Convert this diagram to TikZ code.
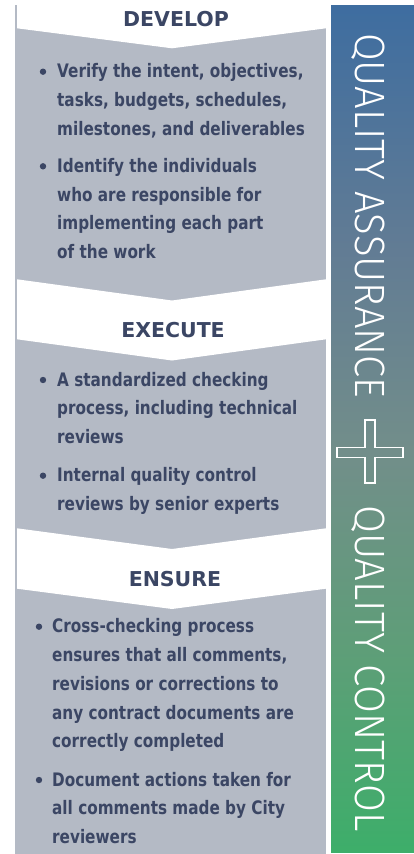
\documentclass[tikz,border=0pt]{standalone}
\usepackage{fontspec}
\usepackage{graphicx}
\newfontfamily\bodyfont{DejaVu Sans}[FakeStretch=0.82]
\newfontfamily\headfont{DejaVu Sans}
\IfFontExistsTF{Fira Sans Light}{\newfontfamily\thinfont{Fira Sans Light}}{%
  \IfFontExistsTF{Open Sans Light}{\newfontfamily\thinfont{Open Sans Light}}{\newfontfamily\thinfont{DejaVu Sans}}}
\definecolor{colgray}{HTML}{B4BAC5}
\definecolor{coltext}{HTML}{3B4664}
\definecolor{qgreen}{HTML}{3DAE6A}
\definecolor{qgreenmid}{HTML}{5E9E78}
\definecolor{qmid}{HTML}{728E8A}
\definecolor{qbluemid}{HTML}{627C94}
\definecolor{qblue}{HTML}{3E6DA0}
\pgfdeclareverticalshading{qashade}{100bp}{color(0bp)=(qgreen); color(25bp)=(qgreen); color(36.9bp)=(qgreenmid); color(48.7bp)=(qmid); color(60.5bp)=(qbluemid); color(75bp)=(qblue); color(100bp)=(qblue)}
\tikzset{
  bodytxt/.style={anchor=base west, inner sep=0pt, text=coltext, font=\bodyfont\bfseries\fontsize{18.6}{20}\selectfont},
  headtxt/.style={anchor=base, inner sep=0pt, text=coltext, font=\headfont\bfseries\fontsize{20.5}{22}\selectfont},
  bulletdot/.style={fill=coltext},
  chevron/.style={fill=white, draw=none},
  sidetxt/.style={anchor=base west, inner sep=0pt, text=white, rotate=-90}
}
\begin{document}
\begin{tikzpicture}[x=1pt, y=-1pt]
\useasboundingbox (0,0) rectangle (414,854);
\fill[white] (0,0) rectangle (414,854);
% gray column
\fill[colgray] (15,5) rectangle (325.5,854);
% white chevrons
\fill[chevron] (17,0) -- (326,0) -- (326,28.3) -- (172,48.3) -- (17,28.3) -- cycle;
\fill[chevron] (17,279.3) -- (172,300.5) -- (326,279.3) -- (326,339.3) -- (172,360.5) -- (17,339.3) -- cycle;
\fill[chevron] (17,528.3) -- (172,549) -- (326,528.3) -- (326,588.7) -- (172,609) -- (17,588.7) -- cycle;
% right panel
\shade[shading=qashade] (331,5) rectangle (414,852);
% headers
\node[headtxt] (hdev) at (176,26.7) {DEVELOP};
\node[headtxt] (hexe) at (173,337) {EXECUTE};
\node[headtxt] (hens) at (175,586) {ENSURE};
% DEVELOP bullets
\fill[bulletdot] (43,71.7) circle[radius=3.2pt];
\node[bodytxt] (d1) at (57,77.7) {Verify the intent, objectives,};
\node[bodytxt] (d2) at (57,106.4) {tasks, budgets, schedules,};
\node[bodytxt] (d3) at (57,135) {milestones, and deliverables};
\fill[bulletdot] (43,166.3) circle[radius=3.2pt];
\node[bodytxt] (d4) at (57,172.3) {Identify the individuals};
\node[bodytxt] (d5) at (57,201) {who are responsible for};
\node[bodytxt] (d6) at (57,229.7) {implementing each part};
\node[bodytxt] (d7) at (57,258.3) {of the work};
% EXECUTE bullets
\fill[bulletdot] (43,380) circle[radius=3.2pt];
\node[bodytxt] (e1) at (57,386) {A standardized checking};
\node[bodytxt] (e2) at (57,414.7) {process, including technical};
\node[bodytxt] (e3) at (57,443.3) {reviews};
\fill[bulletdot] (43,475.7) circle[radius=3.2pt];
\node[bodytxt] (e4) at (57,481.7) {Internal quality control};
\node[bodytxt] (e5) at (57,510.5) {reviews by senior experts};
% ENSURE bullets
\fill[bulletdot] (39,626.7) circle[radius=3.2pt];
\node[bodytxt] (s1) at (52,632.7) {Cross-checking process};
\node[bodytxt] (s2) at (52,661.5) {ensures that all comments,};
\node[bodytxt] (s3) at (52,690) {revisions or corrections to};
\node[bodytxt] (s4) at (52,719) {any contract documents are};
\node[bodytxt] (s5) at (52,747.7) {correctly completed};
\fill[bulletdot] (39,780) circle[radius=3.2pt];
\node[bodytxt] (s6) at (52,786) {Document actions taken for};
\node[bodytxt] (s7) at (52,814.5) {all comments made by City};
\node[bodytxt] (s8) at (52,843.3) {reviewers};
% side texts
\node[sidetxt] (qa) at (355,33) {\resizebox{365pt}{29.5pt}{\thinfont QUALITY ASSURANCE}};
\node[sidetxt] (qc) at (355,505) {\resizebox{326pt}{29.5pt}{\thinfont QUALITY CONTROL}};
% plus sign
\draw[white, line width=1.2pt] (365,420) -- (375,420) -- (375,447.7) -- (403,447.7) -- (403,457.3) -- (375,457.3) -- (375,483) -- (365,483) -- (365,457.3) -- (337,457.3) -- (337,447.7) -- (365,447.7) -- cycle;
\end{tikzpicture}
\end{document}
